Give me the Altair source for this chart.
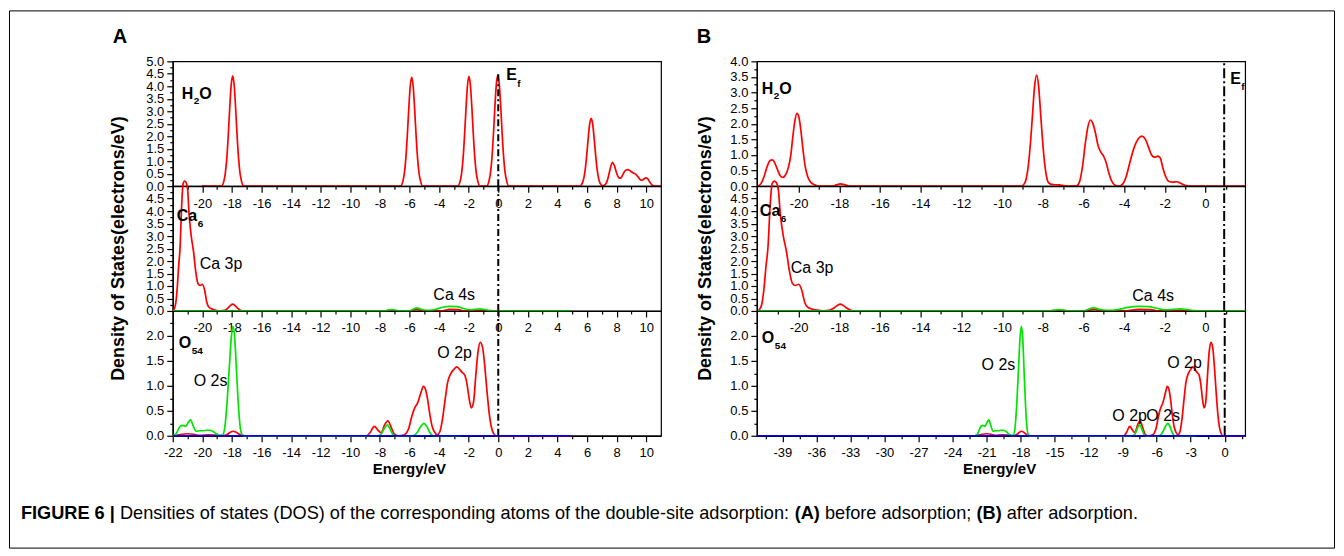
import altair as alt
import pandas as pd

REG = "'Liberation Sans', Arial, sans-serif"
RED = "#ff0000"
GREEN = "#00e400"
BLUE = "#0000ff"
W, H = 489, 125

# ---------------- data (energy eV, DOS electrons/eV) ----------------
a_h2o = [(-20.05,0),(-18.7,0),(-18.55,0.19),(-18.45,0.5),(-18.35,1.1),(-18.25,2.02),(-18.15,3.12),(-18.05,4.05),(-17.95,4.42),(-17.85,4.05),(-17.75,3.12),(-17.65,2.02),(-17.55,1.1),(-17.45,0.5),(-17.35,0.19),(-17.2,0),
         (-6.6,0),(-6.45,0.19),(-6.35,0.5),(-6.25,1.09),(-6.15,2.0),(-6.05,3.08),(-5.95,4.0),(-5.85,4.36),(-5.75,4.0),(-5.65,3.08),(-5.55,2.0),(-5.45,1.09),(-5.35,0.5),(-5.25,0.19),(-5.1,0),
         (-2.73,0),(-2.58,0.19),(-2.48,0.5),(-2.38,1.1),(-2.28,2.02),(-2.18,3.11),(-2.08,4.03),(-1.98,4.4),(-1.88,4.03),(-1.78,3.11),(-1.68,2.02),(-1.58,1.1),(-1.48,0.5),(-1.38,0.19),(-1.23,0),
         (-0.78,0),(-0.63,0.2),(-0.53,0.51),(-0.43,1.11),(-0.33,2.04),(-0.23,3.15),(-0.13,4.08),(-0.03,4.45),(0.07,4.08),(0.17,3.15),(0.27,2.04),(0.37,1.11),(0.47,0.51),(0.57,0.2),(0.72,0),
         (5.53,0),(5.68,0.12),(5.78,0.31),(5.88,0.68),(5.98,1.25),(6.08,1.92),(6.18,2.49),(6.28,2.72),(6.38,2.49),(6.48,1.92),(6.58,1.25),(6.68,0.68),(6.78,0.31),(6.88,0.12),(7.03,0.02),
         (7.15,0.03),(7.3,0.12),(7.45,0.4),(7.6,0.78),(7.72,0.95),(7.85,0.82),(8.0,0.52),(8.15,0.34),(8.27,0.32),(8.4,0.44),(8.55,0.6),(8.75,0.66),(8.95,0.6),(9.15,0.52),(9.3,0.47),(9.45,0.37),(9.6,0.26),(9.72,0.24),(9.86,0.3),(10.0,0.33),(10.12,0.28),(10.25,0.15),(10.4,0.04),(10.55,0),(11.0,0)]

b_h2o = [(-22.0,0),(-21.85,0.08),(-21.7,0.3),(-21.55,0.62),(-21.4,0.82),(-21.3,0.84),(-21.2,0.78),(-21.05,0.55),(-20.9,0.33),(-20.78,0.28),(-20.65,0.35),(-20.5,0.6),(-20.38,1.0),(-20.28,1.6),(-20.18,2.1),(-20.08,2.33),(-19.98,2.2),(-19.88,1.75),(-19.78,1.15),(-19.68,0.65),(-19.55,0.3),(-19.4,0.12),(-19.2,0.04),(-19.0,0),
         (-18.35,0),(-18.15,0.04),(-17.95,0.07),(-17.75,0.05),(-17.5,0),
         (-9.05,0),(-8.9,0.08),(-8.8,0.27),(-8.7,0.7),(-8.6,1.4),(-8.5,2.3),(-8.4,3.2),(-8.3,3.56),(-8.2,3.2),(-8.1,2.3),(-8.0,1.4),(-7.9,0.7),(-7.8,0.27),(-7.7,0.1),(-7.5,0.05),(-7.2,0.04),(-6.9,0.01),(-6.7,0),
         (-6.35,0),(-6.2,0.12),(-6.05,0.6),(-5.9,1.4),(-5.78,1.9),(-5.65,2.12),(-5.52,1.98),(-5.4,1.68),(-5.28,1.3),(-5.15,1.1),(-5.0,0.95),(-4.88,0.75),(-4.74,0.4),(-4.6,0.15),(-4.45,0.03),(-4.25,0),
         (-4.05,0.08),(-3.9,0.3),(-3.7,0.8),(-3.5,1.25),(-3.3,1.52),(-3.12,1.6),(-2.95,1.5),(-2.8,1.25),(-2.65,1.0),(-2.5,0.93),(-2.35,0.96),(-2.22,0.9),(-2.1,0.6),(-1.95,0.3),(-1.8,0.15),(-1.6,0.13),(-1.4,0.14),(-1.25,0.1),(-1.05,0.04),(-0.8,0),(1.95,0)]

ca_red = [(-22.0,0),(-21.9,0.08),(-21.8,0.3),(-21.7,0.9),(-21.6,1.8),(-21.5,2.6),(-21.4,4.2),(-21.3,5.1),(-21.2,5.2),(-21.1,5.15),(-21.0,4.9),(-20.9,3.9),(-20.75,3.0),(-20.6,2.4),(-20.45,1.6),(-20.3,1.1),(-20.15,1.02),(-20.0,1.07),(-19.85,0.85),(-19.7,0.35),(-19.55,0.15),(-19.35,0.08),(-19.1,0.03),(-18.8,0),
          (-18.5,0.02),(-18.3,0.1),(-18.1,0.22),(-17.95,0.27),(-17.8,0.22),(-17.6,0.1),(-17.4,0.02),(-17.2,0),
          (-7.7,0),(-7.2,0.03),(-6.8,0),(-5.9,0),(-5.5,0.07),(-5.1,0),(-3.9,0),(-3.3,0.06),(-2.7,0.05),(-2.3,0),(-1.5,0),(-1.2,0.03),(-0.9,0),(1.95,0),(4.9,0)]

ca_green = [(-22.0,0),(-7.7,0),(-7.45,0.03),(-7.2,0.05),(-6.95,0.03),(-6.7,0),(-6.0,0),(-5.75,0.07),(-5.5,0.12),(-5.25,0.08),(-5.0,0.03),(-4.6,0.02),(-4.2,0.07),(-3.8,0.14),(-3.3,0.18),(-2.8,0.17),(-2.35,0.1),(-1.95,0.04),(-1.6,0.06),(-1.25,0.08),(-0.9,0.05),(-0.5,0.01),(0.0,0),(1.95,0),(4.9,0)]

o_red = [(-22.0,0),(-21.6,0.02),(-21.0,0.04),(-20.6,0.03),(-20.2,0.01),(-19.6,0.02),(-19.0,0.01),(-18.6,0),(-18.3,0.03),(-18.1,0.07),(-17.92,0.09),(-17.72,0.07),(-17.5,0.03),(-17.2,0),
         (-8.9,0),(-8.65,0.07),(-8.38,0.19),(-8.15,0.12),(-7.92,0.06),(-7.68,0.22),(-7.46,0.3),(-7.25,0.18),(-7.02,0.03),(-6.75,0),
         (-6.35,0.02),(-6.05,0.15),(-5.85,0.38),(-5.66,0.55),(-5.45,0.66),(-5.25,0.84),(-5.06,0.99),(-4.92,0.93),(-4.77,0.72),(-4.62,0.42),(-4.46,0.18),(-4.3,0.07),(-4.12,0.02),
         (-3.95,0.08),(-3.76,0.35),(-3.58,0.75),(-3.42,1.07),(-3.22,1.24),(-3.0,1.33),(-2.8,1.38),(-2.62,1.33),(-2.45,1.27),(-2.27,1.22),(-2.12,1.05),(-1.97,0.75),(-1.82,0.56),(-1.67,0.68),(-1.52,1.2),(-1.37,1.68),(-1.22,1.87),(-1.06,1.77),(-0.92,1.42),(-0.77,0.92),(-0.62,0.47),(-0.47,0.18),(-0.32,0.05),(-0.15,0),(1.8,0),(4.9,0)]

o_green = [(-22.0,0),(-21.75,0.05),(-21.55,0.17),(-21.35,0.21),(-21.13,0.19),(-20.95,0.27),(-20.8,0.32),(-20.62,0.2),(-20.42,0.09),(-20.2,0.1),(-19.96,0.1),(-19.7,0.11),(-19.5,0.11),(-19.3,0.09),(-19.05,0.04),(-18.8,0.01),
           (-18.62,0.02),(-18.47,0.2),(-18.32,0.7),(-18.17,1.4),(-18.05,1.95),(-17.93,2.19),(-17.81,1.95),(-17.69,1.3),(-17.56,0.6),(-17.43,0.15),(-17.3,0.02),(-17.15,0),
           (-8.2,0),(-7.95,0.02),(-7.72,0.14),(-7.5,0.22),(-7.3,0.13),(-7.08,0.01),(-6.9,0),(-5.8,0),(-5.52,0.05),(-5.27,0.17),(-5.02,0.25),(-4.8,0.17),(-4.6,0.05),(-4.4,0),(-2.5,0)]

a_blue = [(-22.0,0),(4.9,0)]
b_blue = [(-41.25,0),(1.8,0)]

# axes
A_X = [-22, 11]
B_X_TOP = [-22.05, 1.95]
B_X_BOT = [-41.25, 1.8]
A_XMAJ_BOT = list(range(-22, 11, 2))
A_XMAJ = list(range(-20, 11, 2))
A_XMIN = list(range(-21, 11, 2))
B_XMAJ = list(range(-20, 1, 2))
B_XMIN = list(range(-21, 2, 2))
B_XMAJ_BOT = list(range(-39, 1, 3))
B_XMIN_BOT = [-40.5 + 3 * i for i in range(15)]
Y5_MAJ = [i * 0.5 for i in range(11)]
Y45_MAJ = [i * 0.5 for i in range(10)]
Y4_MAJ = [i * 0.5 for i in range(9)]
Y2_MAJ = [i * 0.5 for i in range(5)]
Y5_MIN = [0.25 + 0.5 * i for i in range(10)]
Y4_MIN = [0.25 + 0.5 * i for i in range(8)]
Y2_MIN = [0.25 + 0.5 * i for i in range(5)]

CAPTION = [("FIGURE 6 |", True), ("Densities of states (DOS) of the corresponding atoms of the double-site adsorption:", False),
           ("(A)", True), ("before adsorption;", False), ("(B)", True), ("after adsorption.", False)]

ONE = pd.DataFrame({"k": [0]})

# Arial / Liberation Sans advance widths (em) used to chain the caption pieces
_REGW = {' ': .278, '(': .333, ')': .333, ':': .278, ';': .278, '.': .278, '-': .333, 'a': .556, 'b': .556, 'c': .5,
         'd': .556, 'e': .556, 'f': .278, 'g': .556, 'h': .556, 'i': .222, 'l': .222, 'm': .833, 'n': .556, 'o': .556,
         'p': .556, 'r': .333, 's': .5, 't': .278, 'u': .556, 'D': .722, 'O': .778, 'S': .667}
_BOLDW = {' ': .278, '(': .333, ')': .333, 'A': .722, 'B': .722, 'F': .611, 'I': .278, 'G': .778, 'U': .722,
          'R': .722, 'E': .667, '6': .556, '|': .28}


def text_w(s, bold, size):
    table = _BOLDW if bold else _REGW
    return sum(table.get(c, .556) for c in s) * size


def sc(dom):
    return alt.Scale(domain=dom, nice=False, zero=False)


def axis_layers(xdom, ydom, xmaj, xmin, ymaj, ymin):
    d = pd.DataFrame({"e": [xdom[0]], "v": [ydom[0]]})
    major = alt.Chart(d).mark_point(opacity=0).encode(
        x=alt.X("e:Q", scale=sc(xdom), axis=alt.Axis(orient="bottom", values=xmaj, title=None, grid=False,
                tickSize=6, labelPadding=5, labelExpr="datum.value + ''", labelFlush=False,
                labelOverlap=False, labelBound=False)),
        y=alt.Y("v:Q", scale=sc(ydom), axis=alt.Axis(orient="left", values=ymaj, title=None, grid=False,
                tickSize=6, labelPadding=3, labelExpr="format(datum.value, '.1f')", labelFlush=False,
                labelOverlap=False, labelBound=False)))
    minor = alt.Chart(d).mark_point(opacity=0).encode(
        x=alt.X("e:Q", scale=sc(xdom), axis=alt.Axis(orient="bottom", values=xmin, title=None, grid=False,
                tickSize=3, labels=False, domain=False)),
        y=alt.Y("v:Q", scale=sc(ydom), axis=alt.Axis(orient="left", values=ymin, title=None, grid=False,
                tickSize=3, labels=False, domain=False)))
    return [major, minor]


def curve(pts, color, xdom, ydom, w=1.7):
    d = pd.DataFrame(pts, columns=["e", "v"])
    d = d[(d.e >= xdom[0]) & (d.e <= xdom[1])]
    return alt.Chart(d).mark_line(color=color, strokeWidth=w, interpolate="monotone").encode(
        x=alt.X("e:Q", scale=sc(xdom), axis=None), y=alt.Y("v:Q", scale=sc(ydom), axis=None))


def ef(e, ytop, xdom, ydom, dash):
    d = pd.DataFrame({"e": [e], "y0": [0.0], "y1": [ytop]})
    return alt.Chart(d).mark_rule(color="black", strokeWidth=2, strokeDash=dash).encode(
        x=alt.X("e:Q", scale=sc(xdom), axis=None), y=alt.Y("y0:Q", scale=sc(ydom), axis=None), y2="y1:Q")


def txt(s, x, y, size=16, bold=False, font=REG, align="left", baseline="alphabetic", angle=None):
    kw = dict(text=s, fontSize=size, font=font, fontWeight="bold" if bold else "normal",
              align=align, baseline=baseline, color="black")
    if angle is not None:
        kw["angle"] = angle
    return alt.Chart(ONE).mark_text(**kw).encode(x=alt.value(x), y=alt.value(y))


def caption_layers(x0, y, size):
    out = []
    x = x0
    for s, bold in CAPTION:
        out.append(txt(s, x, y, size, bold, REG))
        x += text_w(s, bold, size) + 0.278 * size
    return out


def panel(layers):
    return alt.layer(*layers).properties(width=W, height=H).resolve_axis(x="independent", y="independent")


DASH_A = [7, 3, 2, 3]
DASH_B = [10, 3, 2, 3]

# ---------------- panel A ----------------
a_top = panel(axis_layers(A_X, [0, 5], A_XMAJ, A_XMIN, Y5_MAJ, Y5_MIN) + [
    curve(a_h2o, RED, A_X, [0, 5]),
    ef(0, 4.5, A_X, [0, 5], DASH_A),
    txt("H", 9, 38, 16, True), txt("2", 21, 43, 10, True), txt("O", 26.5, 38, 16, True),
    txt("E", 334, 19, 16, True), txt("f", 345, 26, 10, True),
    txt("A", -53, -24, 20, True, REG, "center", "middle"),
    alt.Chart(ONE).mark_rect(filled=False, stroke="black", strokeWidth=1).encode(
        x=alt.value(-163.5), x2=alt.value(1163.5), y=alt.value(-50.5), y2=alt.value(487.5)),
])

a_mid = panel(axis_layers(A_X, [0, 5], A_XMAJ, A_XMIN, Y45_MAJ, Y5_MIN) + [
    curve(ca_red, RED, A_X, [0, 5]),
    curve(ca_green, GREEN, A_X, [0, 5]),
    ef(0, 5, A_X, [0, 5], DASH_A),
    txt("Ca", 4, 35, 16, True), txt("6", 25, 41, 10, True),
    txt("Ca 3p", 27, 83, 16), txt("Ca 4s", 261, 114, 16),
    txt("Density of States(electrons/eV)", -54, 62.5, 18, True, REG, "center", "middle", 270),
])

a_bot = panel(axis_layers(A_X, [0, 2.5], A_XMAJ_BOT, A_XMIN, Y2_MAJ, Y2_MIN) + [
    curve(o_red, RED, A_X, [0, 2.5]),
    curve(o_green, GREEN, A_X, [0, 2.5]),
    curve(a_blue, BLUE, A_X, [0, 2.5]),
    ef(0, 2.5, A_X, [0, 2.5], DASH_A),
    txt("O", 6, 37, 16, True), txt("54", 19, 43, 10, True),
    txt("O 2s", 21, 75, 16), txt("O 2p", 265, 47, 16),
    txt("Energy/eV", 237, 158, 15, True, REG, "center", "middle"),
] + caption_layers(-152, 208, 18.2))

# ---------------- panel B ----------------
b_top = panel(axis_layers(B_X_TOP, [0, 4], B_XMAJ, B_XMIN, Y4_MAJ, Y4_MIN) + [
    curve(b_h2o, RED, B_X_TOP, [0, 4]),
    ef(0.92, 4, B_X_TOP, [0, 4], DASH_B),
    txt("H", 5, 33, 16, True), txt("2", 17, 38, 10, True), txt("O", 22.5, 33, 16, True),
    txt("E", 474, 23, 16, True), txt("f", 485, 29, 10, True),
    txt("B", -53, -24, 20, True, REG, "center", "middle"),
])

b_mid = panel(axis_layers(B_X_TOP, [0, 5], B_XMAJ, B_XMIN, Y45_MAJ, Y5_MIN) + [
    curve(ca_red, RED, B_X_TOP, [0, 5]),
    curve(ca_green, GREEN, B_X_TOP, [0, 5]),
    ef(0.92, 5, B_X_TOP, [0, 5], DASH_B),
    txt("Ca", 3, 30, 16, True), txt("6", 24, 36, 10, True),
    txt("Ca 3p", 34, 87, 16), txt("Ca 4s", 376, 115, 16),
    txt("Density of States(electrons/eV)", -51, 62.5, 18, True, REG, "center", "middle", 270),
])

b_bot = panel(axis_layers(B_X_BOT, [0, 2.5], B_XMAJ_BOT, B_XMIN_BOT, Y2_MAJ, Y2_MIN) + [
    curve(o_red, RED, B_X_BOT, [0, 2.5]),
    curve(o_green, GREEN, B_X_BOT, [0, 2.5]),
    curve(b_blue, BLUE, B_X_BOT, [0, 2.5]),
    ef(0, 2.5, B_X_BOT, [0, 2.5], DASH_B),
    txt("O", 5, 32, 16, True), txt("54", 18, 38, 10, True),
    txt("O 2s", 225, 59, 16), txt("O 2p", 411, 57, 16),
    txt("O 2p", 356, 110, 16), txt("O 2s", 390, 110, 16),
    txt("Energy/eV", 243, 158, 15, True, REG, "center", "middle"),
])

chart = alt.concat(a_top, b_top, a_mid, b_mid, a_bot, b_bot, columns=2,
                   spacing={"row": 0, "column": 96}, bounds="flush").properties(
    padding={"left": 0, "top": 1, "right": 0, "bottom": 0}
).configure_view(stroke="black", strokeWidth=1.2).configure_axis(
    domainColor="black", domainWidth=1.3, tickColor="black", tickWidth=1.2,
    labelColor="black", labelFont=REG, labelFontSize=13)

chart.save("out.html", embed_options={"renderer": "svg", "actions": False})
